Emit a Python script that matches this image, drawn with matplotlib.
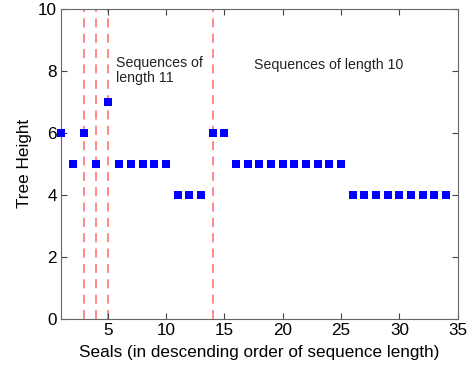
import matplotlib
matplotlib.use("Agg")
import matplotlib.pyplot as plt

plt.rcParams['font.family'] = ['Liberation Sans', 'DejaVu Sans']

seals = list(range(1, 35))
heights = [6, 5, 6, 5, 7, 5, 5, 5, 5, 5, 4, 4, 4, 6, 6,
           5, 5, 5, 5, 5, 5, 5, 5, 5, 5,
           4, 4, 4, 4, 4, 4, 4, 4, 4]
boundaries = [3, 4, 5, 14]
xticks = [5, 10, 15, 20, 25, 30, 35]
yticks = [0, 2, 4, 6, 8, 10]

fig = plt.figure(figsize=(4.72, 3.67), dpi=100)
ax = fig.add_axes([0.129, 0.131, 0.841, 0.845])

for b in boundaries:
    ax.axvline(b, color='#ff7f7f', linestyle=(0, (5, 3.5)), linewidth=1.3, zorder=1)

ax.plot(seals, heights, 's', color='#0000ff', markersize=6.3, markeredgewidth=0,
        zorder=3, clip_on=False)

ax.text(5.75, 8.0, 'Sequences of\nlength 11', fontsize=10.2, va='center', ha='left',
        color='#222222', linespacing=1.1)
ax.text(17.5, 8.2, 'Sequences of length 10', fontsize=10.2, va='center', ha='left',
        color='#222222')

ax.set_xlim(1, 35)
ax.set_ylim(0, 10)
ax.set_xticks(xticks)
ax.set_yticks(yticks)
ax.tick_params(direction='in', length=4, top=True, right=True, labelsize=12.3,
               color='#444444', pad=3)
for s in ax.spines.values():
    s.set_color('#666666')
    s.set_linewidth(0.8)

ax.set_xlabel('Seals (in descending order of sequence length)', fontsize=12.3, labelpad=5)
ax.set_ylabel('Tree Height', fontsize=12.3, labelpad=4)

fig.savefig('out.png', dpi=100)
